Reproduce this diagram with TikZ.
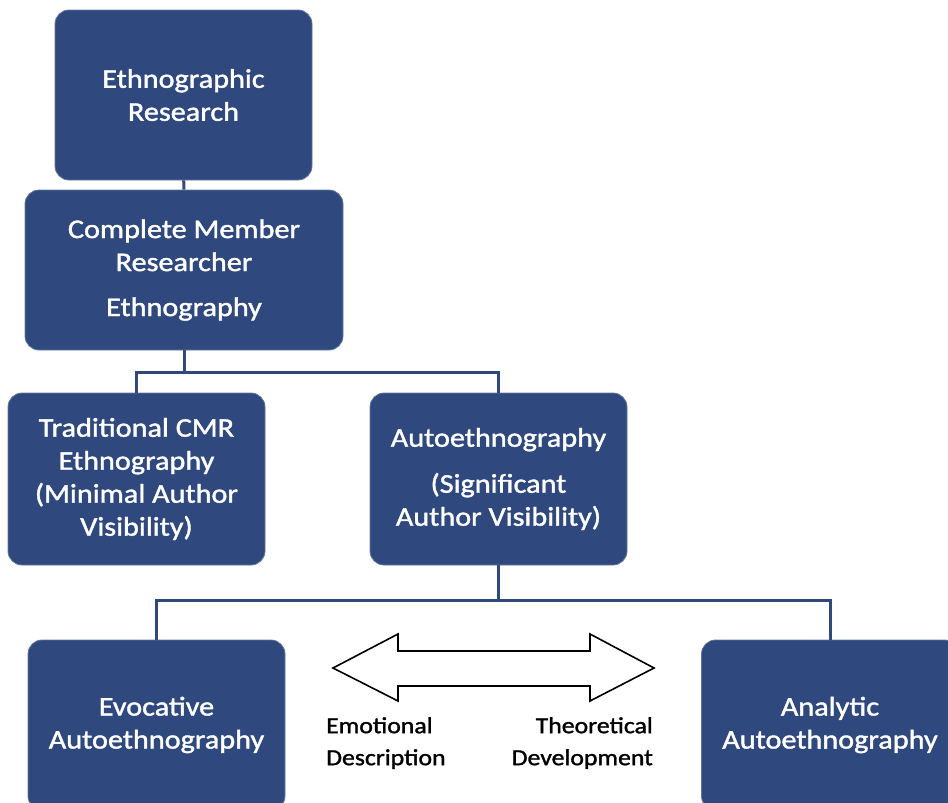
\documentclass[tikz,border=0pt]{standalone}
\usepackage{fontspec}
\setmainfont[FakeStretch=1.12, FakeBold=1.4]{Carlito}
\definecolor{boxblue}{RGB}{47,73,127}
\tikzset{
  stage/.style={fill=boxblue, draw=boxblue!75, line width=.8pt, rounded corners=14pt,
    text=white, align=center, inner sep=0pt, minimum width=257pt, minimum height=172pt,
    font=\fontsize{27}{33}\selectfont},
  link/.style={draw=boxblue, line width=3pt},
  pole/.style={inner sep=0pt, font=\fontsize{23}{32}\selectfont}
}
\begin{document}
\begin{tikzpicture}[x=1pt, y=-1pt]
    \clip (0,0) rectangle (948,803);
    \node[stage, minimum height=170pt] (eth) at (183.5,95) {Ethnographic\\Research};
    \node[stage, minimum width=318pt, minimum height=160pt] (cmr) at (184,270)
        {Complete Member\\Researcher\\[12pt]Ethnography};
    \node[stage] (trad) at (136.5,479) {Traditional CMR\\Ethnography\\(Minimal Author\\Visibility)};
    \node[stage] (auto) at (498.5,479) {Autoethnography\\[13pt](Significant\\Author Visibility)};
    \node[stage, minimum height=170pt] (evoc) at (156.5,725) {Evocative\\Autoethnography};
    \node[stage, minimum height=170pt] (anal) at (830,725) {Analytic\\Autoethnography};
    % tree
    \draw[link] (eth) -- (cmr);
    \draw[link] (cmr.south) -- ++(0,22) coordinate (fork1);
    \draw[link] (trad.north) |- (fork1) -| (auto.north);
    \draw[link] (auto.south) -- ++(0,35) coordinate (fork2);
    \draw[link] (evoc.north) |- (fork2) -| (anal.north);
    % continuum
    \draw[line width=1.6pt, line join=miter] (333,668) -- (398,634) -- (398,651) -- (590,651)
        -- (590,634) -- (654,668) -- (590,701) -- (590,686) -- (398,686) -- (398,701) -- cycle;
    \node[pole, align=left, anchor=north west] (emo) at (326,717) {Emotional\\Description};
    \node[pole, align=right, anchor=north east] (theo) at (653,717) {Theoretical\\Development};
\end{tikzpicture}
\end{document}
